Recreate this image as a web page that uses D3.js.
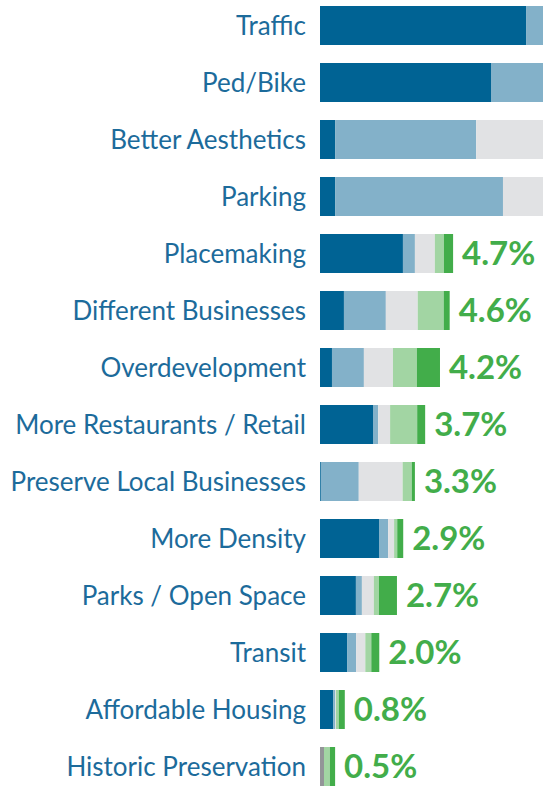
<!DOCTYPE html>
<html>
<head>
<meta charset="utf-8">
<script src="https://cdn.jsdelivr.net/npm/d3@7"></script>
<style>
  body { margin: 0; background: #fff; }
  svg { display: block; }
</style>
</head>
<body>
<svg id="chart"></svg>
<script>
var width = 543, height = 786;

// categories, top to bottom
var categories = ["Traffic", "Ped/Bike", "Better Aesthetics", "Parking", "Placemaking",
  "Different Businesses", "Overdevelopment", "More Restaurants / Retail",
  "Preserve Local Businesses", "More Density", "Parks / Open Space", "Transit",
  "Affordable Housing", "Historic Preservation"];

// stacked segments (percent units), left to right
var neutral   = [0, 0, 0, 0, 0, 0, 0, 0, 0, 0, 0, 0, 0, 0.14];
var darkBlue  = [7.23, 6.0, 0.53, 0.53, 2.91, 0.84, 0.42, 1.86, 0.03, 2.07, 1.26, 0.95, 0.46, 0];
var lightBlue = [1.6, 2.3, 4.95, 5.89, 0.42, 1.47, 1.12, 0.18, 1.33, 0.32, 0.21, 0.32, 0.07, 0];
var grey      = [1.2, 1.4, 3.2, 2.2, 0.70, 1.12, 1.02, 0.42, 1.54, 0.21, 0.42, 0.32, 0.03, 0];
var lightGreen= [0.6, 0.6, 1.0, 0.8, 0.32, 0.91, 0.84, 0.95, 0.32, 0.11, 0.18, 0.21, 0.10, 0.21];
var green     = [0.5, 0.5, 0.5, 0.6, 0.32, 0.21, 0.81, 0.28, 0.11, 0.21, 0.63, 0.28, 0.21, 0.18];

// value labels at bar ends (top bars run off the page, no label visible)
var shares = [null, null, null, null, 4.7, 4.6, 4.2, 3.7, 3.3, 2.9, 2.7, 2.0, 0.8, 0.5];

var keys = ["neutral", "darkBlue", "lightBlue", "grey", "lightGreen", "green"];
var colors = ["#939598", "#006394", "#83b1c9", "#e1e2e4", "#a2d5a3", "#42ad4a"];

var data = categories.map(function(c, i) {
  return { cat: c, neutral: neutral[i], darkBlue: darkBlue[i], lightBlue: lightBlue[i],
    grey: grey[i], lightGreen: lightGreen[i], green: green[i], share: shares[i] };
});

var svg = d3.select("#chart").attr("width", width).attr("height", height);

var x = d3.scaleLinear().domain([0, 8]).range([320, 548]);
var y = d3.scaleBand().domain(categories).range([-3, 795])
  .paddingInner(18 / 57).paddingOuter(9 / 57);
var color = d3.scaleOrdinal().domain(keys).range(colors);

var stack = d3.stack().keys(keys);
var series = stack(data);

svg.selectAll("g.layer").data(series).enter().append("g")
    .attr("class", "layer")
    .attr("fill", function(d) { return color(d.key); })
  .selectAll("rect").data(function(d) { return d; }).enter().append("rect")
    .attr("x", function(d) { return x(d[0]); })
    .attr("y", function(d) { return y(d.data.cat); })
    .attr("width", function(d) { return x(d[1]) - x(d[0]); })
    .attr("height", y.bandwidth());

svg.selectAll("text.cat").data(data).enter().append("text")
    .attr("class", "cat")
    .attr("x", 306)
    .attr("y", function(d) { return y(d.cat) + y.bandwidth() / 2; })
    .attr("dy", "0.36em")
    .attr("text-anchor", "end")
    .attr("fill", "#1c6b9b")
    .style("font-family", "Lato, 'Open Sans', sans-serif")
    .style("font-size", "26px")
    .text(function(d) { return d.cat; });

svg.selectAll("text.share").data(data.filter(function(d) { return d.share != null; }))
  .enter().append("text")
    .attr("class", "share")
    .attr("x", function(d) { return x(d3.sum(keys, function(k) { return d[k]; })) + 9; })
    .attr("y", function(d) { return y(d.cat) + y.bandwidth() / 2; })
    .attr("dy", "0.36em")
    .attr("fill", "#42ad4a")
    .style("font-family", "Lato, 'Open Sans', sans-serif")
    .style("font-weight", "bold")
    .style("font-size", "33px")
    .text(function(d) { return d.share.toFixed(1) + "%"; });
</script>
</body>
</html>
